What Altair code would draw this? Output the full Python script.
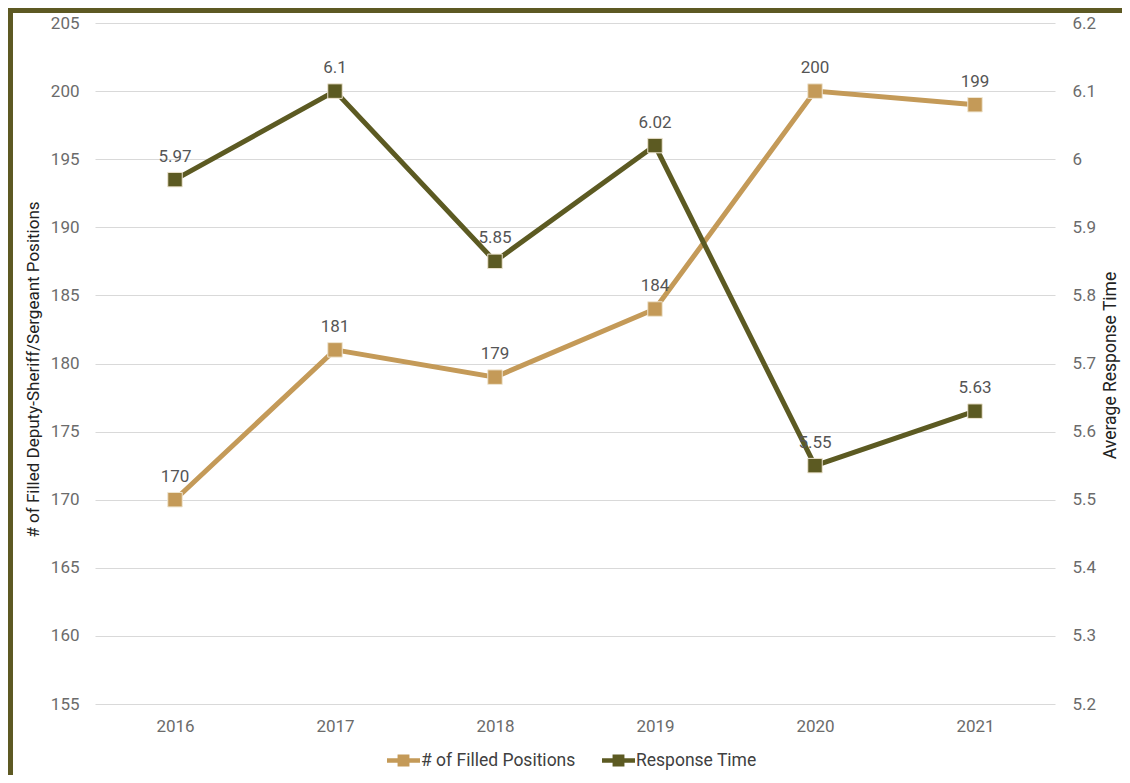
import altair as alt
import pandas as pd

years = ["2016", "2017", "2018", "2019", "2020", "2021"]
filled_positions = [170, 181, 179, 184, 200, 199]
response_time = [5.97, 6.1, 5.85, 6.02, 5.55, 5.63]
series_names = ["# of Filled Positions", "Response Time"]
series_colors = ["#C49A58", "#5C5A22"]
left_ticks = [155, 160, 165, 170, 175, 180, 185, 190, 195, 200, 205]
right_ticks = [5.2, 5.3, 5.4, 5.5, 5.6, 5.7, 5.8, 5.9, 6.0, 6.1, 6.2]

df_f = pd.DataFrame({"year": years, "value": filled_positions, "series": series_names[0]})
df_r = pd.DataFrame({"year": years, "value": response_time, "series": series_names[1]})

FONT = "Roboto"
W, H = 960, 681

x_enc = alt.X("year:O", sort=years, title=None,
              scale=alt.Scale(type="point", padding=0.5),
              axis=alt.Axis(labelAngle=0, labelFontSize=17, labelColor="#6b6b6b",
                            labelPadding=14, domain=False, ticks=False, grid=False,
                            labelFont=FONT))

color_scale = alt.Scale(domain=series_names, range=series_colors)
legend = alt.Legend(title=None, orient="none", direction="horizontal",
                    legendX=292, legendY=721,
                    symbolType="M-1,-0.14H1V0.14H-1Z M-0.36,-0.36H0.36V0.36H-0.36Z",
                    symbolSize=1089, symbolStrokeWidth=0, symbolOpacity=1,
                    labelFontSize=17.5, labelColor="#404040", labelFont=FONT,
                    labelOffset=1, columnPadding=26)

# Left series
yl = alt.Scale(domain=[155, 205], nice=False, zero=False)
left_axis = alt.Axis(values=left_ticks, grid=True, gridColor="#d9d9d9", gridWidth=1,
                     domain=False, ticks=False, labelFontSize=17, labelColor="#6b6b6b",
                     labelPadding=16, labelFont=FONT,
                     title="# of Filled Deputy-Sheriff/Sergeant Positions",
                     titleFont=FONT, titleFontSize=17, titleFontWeight="normal",
                     titleColor="#222222", titleAngle=-90, titleX=-57, titleY=346,
                     titleBaseline="alphabetic", titleAlign="center")
y_left = alt.Y("value:Q", scale=yl, axis=left_axis)
base_f = alt.Chart(df_f)
line_f = base_f.mark_line(strokeWidth=5, color=series_colors[0]).encode(x=x_enc, y=y_left)
pts_f = base_f.mark_point(shape="square", filled=True, size=210, opacity=1,
                          stroke="#efe6d2", strokeWidth=1).encode(
    x=x_enc, y=y_left,
    color=alt.Color("series:N", scale=color_scale, legend=legend))
txt_f = base_f.mark_text(fontSize=17, color="#555555", font=FONT,
                         baseline="alphabetic", dy=-18).encode(
    x=x_enc, y=y_left, text=alt.Text("value:Q", format="d"))
left = alt.layer(line_f, pts_f, txt_f)

# Right series
yr = alt.Scale(domain=[5.2, 6.2], nice=False, zero=False)
right_axis = alt.Axis(values=right_ticks, orient="right", grid=False, domain=False,
                      ticks=False, labelFontSize=17, labelColor="#6b6b6b",
                      labelPadding=17, labelFont=FONT, format=".1~f",
                      title="Average Response Time", titleFont=FONT, titleFontSize=17.5,
                      titleFontWeight="normal", titleColor="#222222", titleAngle=-90,
                      titleX=60, titleY=342, titleBaseline="alphabetic",
                      titleAlign="center")
y_right = alt.Y("value:Q", scale=yr, axis=right_axis)
base_r = alt.Chart(df_r)
line_r = base_r.mark_line(strokeWidth=5, color=series_colors[1]).encode(x=x_enc, y=y_right)
pts_r = base_r.mark_point(shape="square", filled=True, size=210, opacity=1,
                          stroke="#efe6d2", strokeWidth=1).encode(
    x=x_enc, y=y_right,
    color=alt.Color("series:N", scale=color_scale, legend=legend))
txt_r = base_r.mark_text(fontSize=17, color="#555555", font=FONT,
                         baseline="alphabetic", dy=-18).encode(
    x=x_enc, y=y_right, text=alt.Text("value:Q", format=".2~f"))
right = alt.layer(line_r, pts_r, txt_r)

# decorative frame (top and left edges)
frame_data = alt.Data(values=[{}])
frame_top = alt.Chart(frame_data).mark_rect(color="#5D5923").encode(
    x=alt.value(-87), x2=alt.value(W + 67), y=alt.value(-15), y2=alt.value(-10))
frame_left = alt.Chart(frame_data).mark_rect(color="#5D5923").encode(
    x=alt.value(-87), x2=alt.value(-82), y=alt.value(-15), y2=alt.value(H + 71))

chart = alt.layer(left, right, frame_top, frame_left).resolve_scale(
    y="independent", color="shared"
).properties(
    width=W, height=H,
    autosize=alt.AutoSizeParams(type="none"),
    padding={"left": 87, "top": 15, "right": 67, "bottom": 71},
    background="white",
).configure_view(stroke=None)

chart.save("out.html", embed_options={"renderer": "svg", "actions": False})
